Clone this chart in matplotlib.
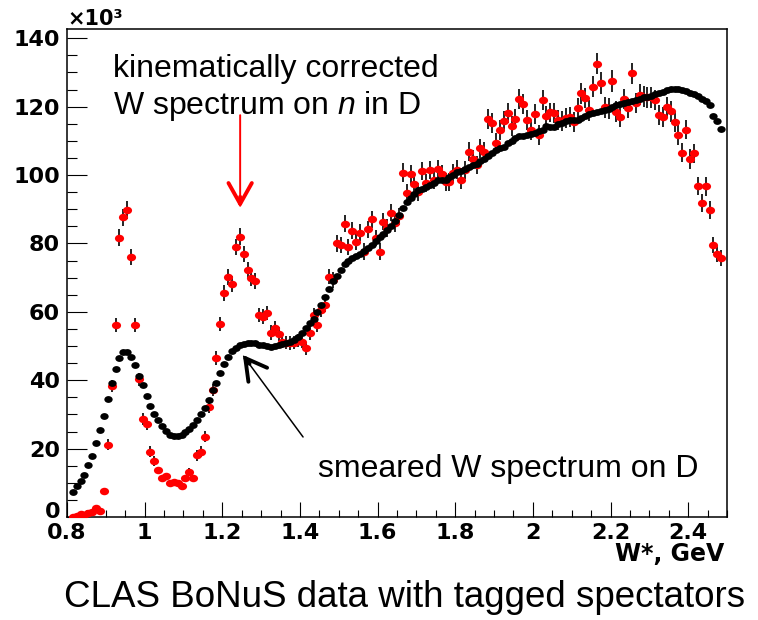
import numpy as np
import matplotlib
matplotlib.use('Agg')
import matplotlib.pyplot as plt
from matplotlib.markers import MarkerStyle
from matplotlib.transforms import Affine2D, ScaledTranslation

plt.rcParams['font.family'] = 'Liberation Sans'
plt.rcParams['mathtext.fontset'] = 'custom'
plt.rcParams['mathtext.rm'] = 'Liberation Sans'
plt.rcParams['mathtext.it'] = 'Liberation Sans:italic'

# W* bins: 168 bins of 0.01 GeV starting at 0.81 GeV
n_bins = 168
w = np.round(0.815 + 0.01 * np.arange(n_bins), 3)

# smeared W spectrum on D (black), units of 10^3
smeared = [7.2, 9.0, 10.5, 12.3, 15.1, 17.8, 21.5, 25.4, 29.6, 34.5,
           39.1, 43.4, 46.4, 48.2, 48.2, 46.9, 44.4, 41.3, 38.6, 35.4,
           32.6, 30.2, 28.4, 26.6, 25.2, 24.0, 23.8, 23.7, 24.0, 24.8,
           25.8, 27.0, 28.5, 30.2, 32.0, 34.2, 37.0, 39.3, 42.0, 44.7,
           46.8, 48.4, 49.5, 50.3, 50.6, 50.8, 51.0, 50.8, 50.4, 50.2,
           50.0, 49.8, 50.0, 50.3, 50.6, 51.0, 51.3, 51.8, 52.6, 53.8,
           55.2, 56.6, 57.8, 59.8, 62.0, 64.2, 66.8, 69.0, 70.5, 72.3,
           74.0, 75.0, 75.7, 76.3, 76.9, 77.7, 78.8, 79.5, 80.7, 81.8,
           82.9, 84.0, 85.0, 86.5, 88.4, 90.5, 92.0, 93.3, 94.4, 95.5,
           96.0, 96.5, 97.0, 97.7, 98.5, 98.6, 98.6, 99.3, 100.0, 100.8,
           101.2, 101.9, 102.4, 102.8, 103.2, 104.0, 104.8, 105.6, 106.4, 107.2,
           107.8, 108.3, 109.3, 110.0, 110.8, 111.4, 111.5, 111.7, 112.0, 112.4,
           112.9, 113.3, 114.2, 114.0, 114.0, 114.8, 115.3, 115.8, 116.0, 116.0,
           116.2, 116.8, 117.2, 117.7, 118.0, 118.4, 118.6, 119.1, 119.4, 119.9,
           120.6, 120.9, 121.1, 121.3, 121.5, 121.8, 122.3, 122.8, 122.9, 123.2,
           123.6, 124.0, 124.4, 124.8, 125.1, 125.3, 125.1, 124.8, 124.5, 124.1,
           123.8, 123.2, 122.2, 121.5, 120.5, 117.3, 115.8, 113.4]

# kinematically corrected W spectrum on n (red), units of 10^3
corrected = [0.1, 0.3, 0.8, 0.6, 1.2, 1.4, 2.6, 1.7, 7.7, 21.1,
             38.3, 56.1, 81.7, 87.6, 89.8, 76.0, 56.1, 40.3, 28.6, 27.1,
             19.1, 16.4, 13.6, 11.3, 12.1, 9.8, 10.3, 10.0, 9.0, 11.3,
             13.3, 11.3, 18.1, 19.1, 23.5, 32.2, 37.2, 46.4, 56.4, 65.5,
             70.1, 68.2, 79.0, 82.0, 76.9, 72.2, 69.8, 69.1, 59.1, 58.6,
             59.7, 53.9, 55.2, 53.5, 51.3, 51.0, 50.8, 51.0, 51.6, 51.3,
             49.3, 53.8, 59.0, 56.1, 60.5, 62.0, 70.3, 69.3, 80.0, 79.5,
             85.7, 79.0, 83.7, 80.5, 83.1, 77.6, 84.1, 87.0, 81.5, 77.6,
             86.3, 84.5, 89.0, 85.9, 88.0, 100.7, 94.7, 100.2, 97.4, 95.0,
             101.2, 97.7, 101.4, 98.6, 101.7, 100.3, 97.9, 98.0, 100.6, 101.6,
             98.5, 101.5, 106.8, 104.6, 103.0, 107.8, 106.8, 116.3, 115.1, 109.5,
             113.2, 115.7, 118.2, 114.3, 116.3, 122.2, 120.8, 116.1, 113.2, 117.8,
             111.7, 122.0, 117.2, 118.3, 118.2, 116.1, 115.9, 116.6, 117.0, 115.6,
             119.5, 123.9, 122.5, 118.9, 125.8, 132.6, 126.9, 119.8, 119.5, 127.5,
             118.5, 117.0, 122.2, 119.6, 129.7, 121.0, 123.5, 122.9, 122.7, 122.7,
             122.0, 117.5, 117.0, 119.8, 118.6, 115.6, 111.7, 106.5, 113.3, 104.7,
             106.3, 96.8, 91.9, 96.7, 89.8, 79.5, 76.9, 75.7]

corrected_err = [0.3, 0.3, 0.3, 0.3, 0.3, 0.3, 0.4, 0.3, 0.8, 1.6,
                 1.8, 2.1, 2.4, 2.5, 2.6, 2.4, 2.1, 1.9, 1.7, 1.7,
                 1.6, 1.5, 1.0, 0.9, 0.9, 0.9, 0.9, 0.9, 0.9, 0.9,
                 1.0, 0.9, 1.6, 1.6, 1.6, 1.8, 1.8, 2.0, 2.1, 2.2,
                 2.3, 2.3, 2.4, 2.4, 2.4, 2.3, 2.3, 2.3, 2.1, 2.1,
                 2.1, 2.1, 2.1, 2.0, 2.0, 2.0, 2.0, 2.0, 2.0, 2.0,
                 2.0, 2.1, 2.1, 2.1, 2.1, 2.2, 2.3, 2.3, 2.4, 2.4,
                 2.5, 2.4, 2.5, 2.4, 2.5, 2.4, 2.5, 2.5, 2.4, 2.4,
                 2.5, 2.5, 2.5, 2.5, 2.5, 2.7, 2.6, 2.7, 2.7, 2.6,
                 2.7, 2.7, 2.7, 2.7, 2.7, 2.7, 2.7, 2.7, 2.7, 2.7,
                 2.7, 2.7, 2.8, 2.8, 2.7, 2.8, 2.8, 2.9, 2.9, 2.8,
                 2.9, 2.9, 2.9, 2.9, 2.9, 3.0, 3.0, 2.9, 2.9, 2.9,
                 2.9, 3.0, 2.9, 2.9, 2.9, 2.9, 2.9, 2.9, 2.9, 2.9,
                 3.0, 3.0, 3.0, 3.0, 3.1, 3.2, 3.1, 3.0, 3.0, 3.1,
                 3.0, 2.9, 3.0, 3.0, 3.1, 3.0, 3.0, 3.0, 3.0, 3.0,
                 3.0, 2.9, 2.9, 3.0, 3.0, 2.9, 2.9, 2.8, 2.9, 2.8,
                 2.8, 2.7, 2.6, 2.7, 2.6, 2.4, 2.4, 2.4]

x_ticks = [0.8, 1.0, 1.2, 1.4, 1.6, 1.8, 2.0, 2.2, 2.4]
x_labels = ['0.8', '1', '1.2', '1.4', '1.6', '1.8', '2', '2.2', '2.4']
y_ticks = [0, 20, 40, 60, 80, 100, 120, 140]
y_labels = ['0', '20', '40', '60', '80', '100', '120', '140']

W_PX, H_PX = 758, 620


def fx(px):
    return px / W_PX


def fy(py):
    return 1 - py / H_PX


fig = plt.figure(figsize=(W_PX / 100, H_PX / 100), dpi=100)
ax = fig.add_axes([fx(67), fy(517), (727 - 67) / W_PX, (517 - 29) / H_PX])

ell = MarkerStyle('o', transform=Affine2D().scale(1.0, 0.82))

ax.errorbar(w, corrected, yerr=corrected_err, fmt='none', ecolor='#111111',
            elinewidth=1.3, capsize=0, zorder=2)
ax.plot(w, corrected, ls='none', marker=ell, ms=6.6, mfc='red', mec='red',
        mew=0, zorder=3)
ax.plot(w, smeared, ls='none', marker=ell, ms=6.0, mfc='black', mec='black',
        mew=0, zorder=4)

ax.set_xlim(0.8, 2.5)
ax.set_ylim(0, 142.7)

tick_font = dict(family='DejaVu Sans', weight='bold', size=16)
ax.set_xticks(x_ticks)
ax.set_xticklabels(x_labels, **tick_font)
ax.set_yticks(y_ticks)
ax.set_yticklabels(y_labels, **tick_font)
ax.set_xticks(np.arange(0.8, 2.5001, 0.05), minor=True)
ax.set_yticks(np.arange(0, 142, 5), minor=True)
ax.tick_params(axis='x', which='major', direction='in', length=10.5, width=0.8, pad=4)
ax.tick_params(axis='x', which='minor', direction='in', length=5.3, width=0.8)
ax.tick_params(axis='y', which='major', direction='in', length=14.3, width=0.8, pad=5)
ax.tick_params(axis='y', which='minor', direction='in', length=7.1, width=0.8)
for s in ax.spines.values():
    s.set_linewidth(1.1)

# lift the y "0" label a little so it clears the "0.8" label
zero_lab = ax.get_yticklabels()[0]
zero_lab.set_transform(zero_lab.get_transform() +
                       ScaledTranslation(0, 5 / 72, fig.dpi_scale_trans))

# red arrow pointing at the Delta peak
ax.annotate('', xy=(1.246, 91.0), xytext=(1.246, 117.5),
            arrowprops=dict(arrowstyle='-', color='red', lw=1.4,
                            shrinkA=0, shrinkB=0))
ax.annotate('', xy=(1.246, 90.4), xytext=(0, 8), textcoords='offset points',
            arrowprops=dict(arrowstyle='->,head_length=0.75,head_width=0.42',
                            color='red', lw=2.8, mutation_scale=20,
                            shrinkA=0, shrinkB=0))

# black arrow pointing at the smeared curve
ax.annotate('', xy=(1.255, 47.0), xytext=(1.408, 23.4),
            arrowprops=dict(arrowstyle='-', color='black', lw=1.1,
                            shrinkA=0, shrinkB=0))
ax.annotate('', xy=(1.253, 47.4), xytext=(4.8, -6.4), textcoords='offset points',
            arrowprops=dict(arrowstyle='->,head_length=0.75,head_width=0.42',
                            color='black', lw=2.8, mutation_scale=20,
                            shrinkA=0, shrinkB=0))

fig.text(fx(113), fy(77), 'kinematically corrected', fontsize=23, va='baseline')
fig.text(fx(113), fy(114), r'W spectrum on $n$ in D', fontsize=23, va='baseline')
fig.text(fx(318), fy(477), 'smeared W spectrum on D', fontsize=23, va='baseline')

fig.text(fx(67), fy(25), '×10³', family='DejaVu Sans', weight='bold',
         fontsize=15, va='baseline')
fig.text(fx(724), fy(561), 'W*, GeV', family='DejaVu Sans', weight='bold',
         fontsize=17, ha='right', va='baseline')
fig.text(fx(405), fy(607), 'CLAS BoNuS data with tagged spectators',
         fontsize=26.5, ha='center', va='baseline')

fig.savefig('out.png', dpi=100)
